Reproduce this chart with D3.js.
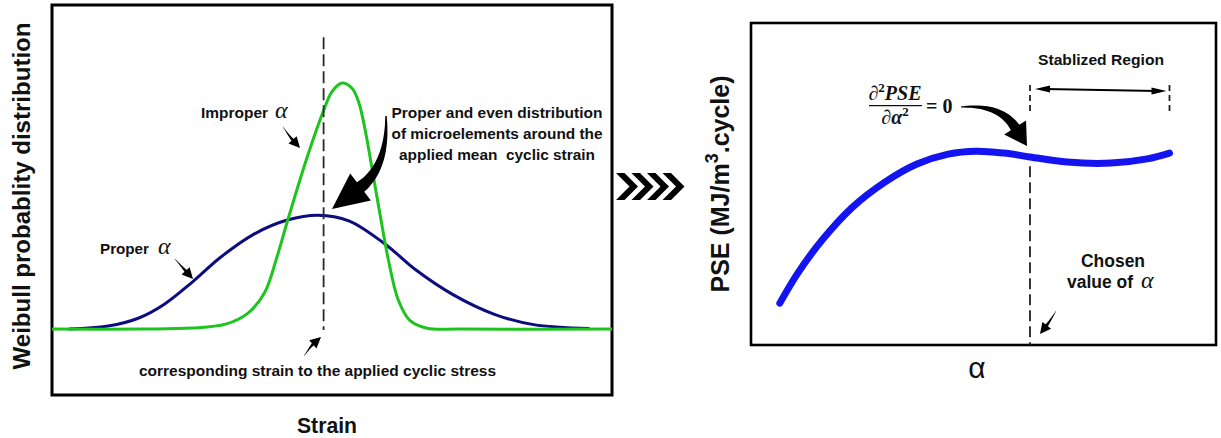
<!DOCTYPE html>
<html>
<head>
<meta charset="utf-8">
<script src="https://cdn.jsdelivr.net/npm/d3@7"></script>
<style>
  body { margin: 0; background: #fff; }
  svg { display: block; }
  text { fill: #111; }
</style>
</head>
<body>
<svg id="fig" width="1221" height="438"></svg>
<script>
// ---- Left panel: Weibull probability density of microelement strain ----
const strainProper   = [0.3, 1.0, 1.55, 2.0, 2.5, 3.0, 3.6, 4.2, 4.75, 5.3, 5.95, 6.5, 7.16, 7.9, 8.6, 9.6];
const densityProper  = [0.0, 0.012, 0.045, 0.1, 0.19, 0.29, 0.385, 0.443, 0.463, 0.44, 0.345, 0.24, 0.14, 0.06, 0.018, 0.002];

const strainImproper  = [0, 1.6, 2.5, 3.1, 3.5, 3.8, 4.0, 4.21, 4.54, 4.84, 5.0, 5.18, 5.36, 5.48, 5.6, 5.72, 5.86, 6.0, 6.18, 6.39, 6.7, 7.3, 10];
const densityImproper = [0, 0.0, 0.004, 0.02, 0.065, 0.15, 0.28, 0.443, 0.687, 0.882, 0.965, 1.0, 0.978, 0.92, 0.8, 0.645, 0.463, 0.289, 0.12, 0.035, 0.003, 0, 0];

const meanStrain = 4.85;          // strain matching the applied cyclic stress
const strainDomain = [0, 10];
const densityDomain = [-0.268, 1.317];

// ---- Right panel: plastic strain energy vs alpha ----
const alphaValues = [0.62, 1.01, 1.53, 2.19, 2.88, 3.57, 4.24, 4.84, 5.44, 6.0, 6.80, 7.74, 8.52, 9.0];
const pseValues   = [1.30, 2.24, 3.26, 4.29, 5.06, 5.62, 5.93, 6.02, 5.96, 5.84, 5.68, 5.65, 5.78, 5.96];
const chosenAlpha = 6.0;
const stableRegion = [6.0, 9.0];
const alphaDomain = [0, 10];
const pseDomain = [0, 10];

const svg = d3.select("#fig");
const SANS = "'Liberation Sans', Arial, sans-serif";
const SERIF = "'Liberation Serif', 'Times New Roman', serif";

// Tapered curved block arrow: tail T, bend control C, tip P
function arrowShape(T, C, P, headLen, headW, bodyW) {
  const L = Math.hypot(P[0] - C[0], P[1] - C[1]);
  const u = [(P[0] - C[0]) / L, (P[1] - C[1]) / L];
  const B = [P[0] - u[0] * headLen, P[1] - u[1] * headLen];
  const N = 24, left = [], right = [];
  for (let i = 0; i <= N; i++) {
    const t = i / N, a = (1 - t) * (1 - t), b = 2 * (1 - t) * t, c = t * t;
    const x = a * T[0] + b * C[0] + c * B[0];
    const y = a * T[1] + b * C[1] + c * B[1];
    let dx = 2 * (1 - t) * (C[0] - T[0]) + 2 * t * (B[0] - C[0]);
    let dy = 2 * (1 - t) * (C[1] - T[1]) + 2 * t * (B[1] - C[1]);
    const dl = Math.hypot(dx, dy); dx /= dl; dy /= dl;
    const w = bodyW * (0.12 + 0.88 * t) / 2;
    left.push([x - dy * w, y + dx * w]);
    right.push([x + dy * w, y - dx * w]);
  }
  const n = [-u[1], u[0]];
  const pts = left.concat([
    [B[0] + n[0] * headW / 2, B[1] + n[1] * headW / 2],
    P,
    [B[0] - n[0] * headW / 2, B[1] - n[1] * headW / 2]
  ], right.reverse());
  return d3.line()(pts) + "Z";
}

// ================= LEFT PANEL =================
const L = { x0: 52, x1: 612, y0: 5, y1: 395 };
const xL = d3.scaleLinear().domain(strainDomain).range([L.x0, L.x1]);
const yL = d3.scaleLinear().domain(densityDomain).range([L.y1, L.y0]);

const gL = svg.append("g");
gL.append("rect").attr("x", L.x0).attr("y", L.y0)
  .attr("width", L.x1 - L.x0).attr("height", L.y1 - L.y0)
  .attr("fill", "none").attr("stroke", "#000").attr("stroke-width", 3);

const lineL = d3.line().x(d => xL(d[0])).y(d => yL(d[1])).curve(d3.curveCatmullRom.alpha(0.5));

gL.append("path")
  .datum(d3.zip(strainProper, densityProper))
  .attr("d", lineL).attr("fill", "none")
  .attr("stroke", "#0c0c80").attr("stroke-width", 3);

gL.append("path")
  .datum(d3.zip(strainImproper, densityImproper))
  .attr("d", lineL).attr("fill", "none")
  .attr("stroke", "#1ec41e").attr("stroke-width", 3);

// applied mean strain marker
gL.append("line")
  .attr("x1", xL(meanStrain)).attr("x2", xL(meanStrain))
  .attr("y1", yL(1.186)).attr("y2", yL(-0.004))
  .attr("stroke", "#2a2a2a").attr("stroke-width", 1.8)
  .attr("stroke-dasharray", "12,5");

// annotations
gL.append("text").attr("x", 201).attr("y", 118)
  .attr("font-family", SANS).attr("font-weight", "bold").attr("font-size", 15)
  .attr("textLength", 67).attr("lengthAdjust", "spacingAndGlyphs").text("Improper");
gL.append("text").attr("x", 275).attr("y", 118)
  .attr("font-family", SERIF).attr("font-style", "italic").attr("font-size", 24).text("α");

gL.append("text").attr("x", 100).attr("y", 254)
  .attr("font-family", SANS).attr("font-weight", "bold").attr("font-size", 15)
  .attr("textLength", 49).attr("lengthAdjust", "spacingAndGlyphs").text("Proper");
gL.append("text").attr("x", 158).attr("y", 254)
  .attr("font-family", SERIF).attr("font-style", "italic").attr("font-size", 24).text("α");

const noteLines = [
  ["Proper and even distribution", 211, 118],
  ["of microelements around the", 211, 139],
  ["applied mean  cyclic strain", 196, 160]
];
noteLines.forEach(([s, w, y]) => {
  gL.append("text").attr("x", 497).attr("y", y).attr("text-anchor", "middle")
    .attr("font-family", SANS).attr("font-weight", "bold").attr("font-size", 15)
    .attr("textLength", w).attr("lengthAdjust", "spacingAndGlyphs")
    .attr("xml:space", "preserve").text(s);
});

gL.append("text").attr("x", 317.5).attr("y", 376).attr("text-anchor", "middle")
  .attr("font-family", SANS).attr("font-weight", "bold").attr("font-size", 15)
  .attr("textLength", 357).attr("lengthAdjust", "spacingAndGlyphs")
  .text("corresponding strain to the applied cyclic stress");

gL.append("text").attr("x", 327).attr("y", 433).attr("text-anchor", "middle")
  .attr("font-family", SANS).attr("font-weight", "bold").attr("font-size", 22)
  .attr("textLength", 60).attr("lengthAdjust", "spacingAndGlyphs").text("Strain");

gL.append("text").attr("transform", "translate(30,196) rotate(-90)")
  .attr("text-anchor", "middle")
  .attr("font-family", SANS).attr("font-weight", "bold").attr("font-size", 24)
  .attr("textLength", 347).attr("lengthAdjust", "spacingAndGlyphs")
  .text("Weibull probablity distribution");

// arrows
gL.append("path").attr("d", arrowShape([386, 116], [388, 166], [332, 209], 36, 34, 12)).attr("fill", "#000");
gL.append("path").attr("d", arrowShape([283, 127], [290, 137], [300, 148], 11, 11, 3)).attr("fill", "#000");
gL.append("path").attr("d", arrowShape([175, 259], [183, 268], [193, 279], 11, 11, 3)).attr("fill", "#000");
gL.append("path").attr("d", arrowShape([304, 356], [311, 346], [321, 337], 11, 11, 3)).attr("fill", "#000");

// chevrons between panels
const chevronStarts = [616, 631.5, 647, 662.5];
chevronStarts.forEach(x0 => {
  svg.append("path")
    .attr("d", d3.line()([[x0, 173], [x0 + 8.5, 173], [x0 + 22, 186.5], [x0 + 8.5, 200], [x0, 200], [x0 + 13.5, 186.5]]) + "Z")
    .attr("fill", "#000");
});

// ================= RIGHT PANEL =================
const R = { x0: 751, x1: 1216, y0: 23, y1: 345 };
const xR = d3.scaleLinear().domain(alphaDomain).range([R.x0, R.x1]);
const yR = d3.scaleLinear().domain(pseDomain).range([R.y1, R.y0]);

const gR = svg.append("g");
gR.append("rect").attr("x", R.x0).attr("y", R.y0)
  .attr("width", R.x1 - R.x0).attr("height", R.y1 - R.y0)
  .attr("fill", "none").attr("stroke", "#000").attr("stroke-width", 2.6);

gR.append("path")
  .datum(d3.zip(alphaValues, pseValues))
  .attr("d", d3.line().x(d => xR(d[0])).y(d => yR(d[1])).curve(d3.curveCatmullRom.alpha(0.5)))
  .attr("fill", "none").attr("stroke", "#1414f2")
  .attr("stroke-width", 7).attr("stroke-linecap", "round");

// chosen alpha marker
gR.append("line")
  .attr("x1", xR(chosenAlpha)).attr("x2", xR(chosenAlpha))
  .attr("y1", yR(5.55)).attr("y2", yR(0))
  .attr("stroke", "#222").attr("stroke-width", 1.8).attr("stroke-dasharray", "11,5");

// stabilised region bracket
stableRegion.forEach(a => {
  gR.append("line").attr("x1", xR(a)).attr("x2", xR(a))
    .attr("y1", 85).attr("y2", 112)
    .attr("stroke", "#222").attr("stroke-width", 1.8).attr("stroke-dasharray", "6,4");
});
const ax0 = xR(stableRegion[0]) + 5, ax1 = xR(stableRegion[1]) - 3;
gR.append("line").attr("x1", ax0 + 10).attr("x2", ax1 - 10).attr("y1", 89).attr("y2", 91)
  .attr("stroke", "#000").attr("stroke-width", 2);
gR.append("path").attr("d", d3.line()([[ax0, 89], [ax0 + 15, 85.5], [ax0 + 15, 92.5]]) + "Z").attr("fill", "#000");
gR.append("path").attr("d", d3.line()([[ax1, 91], [ax1 - 15, 87.5], [ax1 - 15, 94.5]]) + "Z").attr("fill", "#000");

gR.append("text").attr("x", 1101).attr("y", 65).attr("text-anchor", "middle")
  .attr("font-family", SANS).attr("font-weight", "bold").attr("font-size", 15)
  .attr("textLength", 126).attr("lengthAdjust", "spacingAndGlyphs").text("Stablized Region");

// second-derivative condition
const fx = 895;
const num = gR.append("text").attr("x", fx).attr("y", 100).attr("text-anchor", "middle")
  .attr("font-family", SERIF).attr("font-weight", "bold").attr("font-style", "italic").attr("font-size", 20);
num.append("tspan").text("∂");
num.append("tspan").attr("font-size", 13).attr("font-style", "normal").attr("dy", -8).text("2");
num.append("tspan").attr("dy", 8).text("PSE");
gR.append("line").attr("x1", 869).attr("x2", 922).attr("y1", 105.7).attr("y2", 105.7)
  .attr("stroke", "#111").attr("stroke-width", 1.3);
const den = gR.append("text").attr("x", fx).attr("y", 124).attr("text-anchor", "middle")
  .attr("font-family", SERIF).attr("font-weight", "bold").attr("font-style", "italic").attr("font-size", 20);
den.append("tspan").text("∂α");
den.append("tspan").attr("font-size", 13).attr("font-style", "normal").attr("dy", -8).text("2");
gR.append("text").attr("x", 926).attr("y", 113)
  .attr("font-family", SERIF).attr("font-weight", "bold").attr("font-size", 20).text("= 0");

gR.append("text").attr("x", 1113).attr("y", 267).attr("text-anchor", "middle")
  .attr("font-family", SANS).attr("font-weight", "bold").attr("font-size", 18)
  .attr("textLength", 64).attr("lengthAdjust", "spacingAndGlyphs").text("Chosen");
gR.append("text").attr("x", 1067).attr("y", 288)
  .attr("font-family", SANS).attr("font-weight", "bold").attr("font-size", 18)
  .attr("textLength", 66).attr("lengthAdjust", "spacingAndGlyphs").text("value of");
gR.append("text").attr("x", 1141).attr("y", 288)
  .attr("font-family", SERIF).attr("font-style", "italic").attr("font-size", 24).text("α");

gR.append("text").attr("x", 977).attr("y", 378).attr("text-anchor", "middle")
  .attr("font-family", SANS).attr("font-size", 30).text("α");

const yl = gR.append("text").attr("transform", "translate(729,184) rotate(-90)")
  .attr("text-anchor", "middle")
  .attr("font-family", SANS).attr("font-weight", "bold").attr("font-size", 25);
yl.append("tspan").text("PSE (MJ/m");
yl.append("tspan").attr("font-size", 18).attr("dy", -11).text("3");
yl.append("tspan").attr("dy", 11).text(".cycle)");

gR.append("path").attr("d", arrowShape([961, 107], [1000, 104], [1027, 146], 22, 26, 10)).attr("fill", "#000");
gR.append("path").attr("d", arrowShape([1056, 311], [1050, 321], [1040, 334], 11, 11, 3)).attr("fill", "#000");
</script>
</body>
</html>
